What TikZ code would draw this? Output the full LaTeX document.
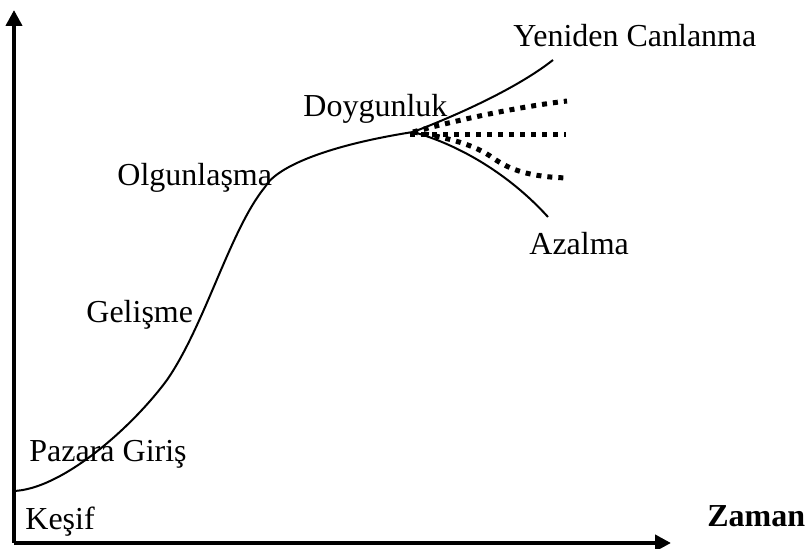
\documentclass[tikz,border=0pt]{standalone}
\usepackage{fontspec}
\setmainfont{Liberation Serif}
\usetikzlibrary{arrows.meta, positioning}
\tikzset{
  >=Triangle,
  axisarrow/.style={-{Triangle[length=8pt, width=8pt]}, line width=2pt, black},
  lifecurve/.style={line width=1pt, black},
  futureline/.style={line width=2.5pt, dash pattern=on 2.5pt off 3pt, black},
  stagelabel/.style={inner sep=0pt, anchor=base west, font=\fontsize{16}{19}\selectfont}
}
\begin{document}
\begin{tikzpicture}[x=0.5pt, y=-0.5pt]
    \useasboundingbox (0,0) rectangle (805,549);
    % Eksenler
    \coordinate (origin) at (14,543);
    \coordinate (ytop) at (14,10);
    \coordinate (xend) at (671,543);
    \draw[axisarrow] (origin) -- (ytop);
    \draw[axisarrow] (origin) -- (xend);
    % Ana egri
    \coordinate (start) at (13,491);
    \coordinate (peak) at (413,132);
    \draw[lifecurve] (start) .. controls (60,490) and (130,430) .. (167,380)
        .. controls (205,325) and (230,230) .. (265,187)
        .. controls (277,166) and (330,145) .. (peak);
    % Yeniden canlanma ve azalma
    \draw[lifecurve] (peak) .. controls (450,118) and (515,90) .. (553,60);
    \draw[lifecurve] (peak) .. controls (460,145) and (510,175) .. (548,217);
    % Olasi gidisler (noktali)
    \draw[futureline] (peak) .. controls (450,122) and (510,108) .. (567,101);
    \draw[futureline] (410,135) -- (566,135);
    \draw[futureline] (peak) .. controls (450,138) and (475,145) .. (493,158)
        .. controls (510,170) and (530,177) .. (568,178);
    % Asama etiketleri
    \node[stagelabel] (yeniden) at (513,47) {Yeniden Canlanma};
    \node[stagelabel] (doygun) at (303,117) {Doygunluk};
    \node[stagelabel] (olgun) at (117,186) {Olgunlaşma};
    \node[stagelabel] (gelisme) at (86,323) {Gelişme};
    \node[stagelabel] (pazara) at (29,462) {Pazara Giriş};
    \node[stagelabel] (kesif) at (25,530) {Keşif};
    \node[stagelabel] (azalma) at (529,255) {Azalma};
    \node[stagelabel, font=\fontsize{16}{19}\selectfont\bfseries] (zaman) at (707,527) {Zaman};
\end{tikzpicture}
\end{document}
